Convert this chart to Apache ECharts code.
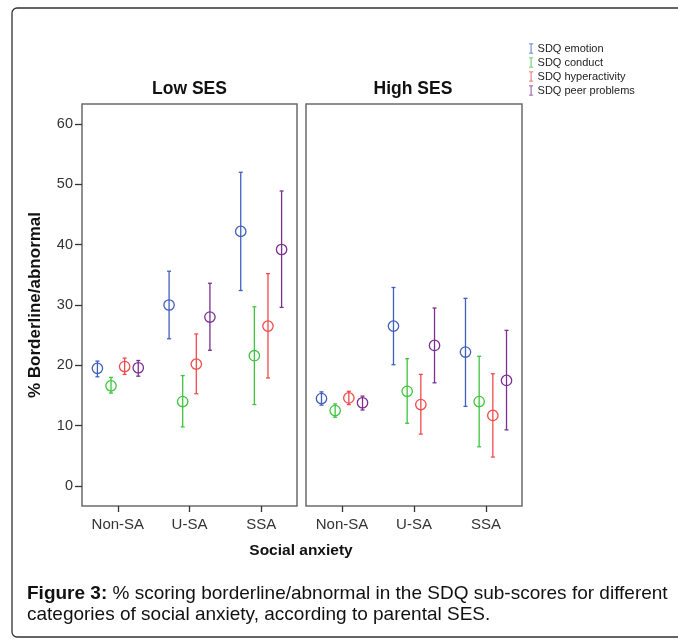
<!DOCTYPE html>
<html>
<head>
<meta charset="utf-8">
<script src="https://cdn.jsdelivr.net/npm/echarts@6/dist/echarts.min.js"></script>
<style>
  html, body { margin: 0; padding: 0; background: #fff; }
  #chart { width: 678px; height: 639px; }
</style>
</head>
<body>
<div id="chart"></div>
<script>
// categories on the x axis
const categories = ['Non-SA', 'U-SA', 'SSA']
const measures = ['SDQ emotion', 'SDQ conduct', 'SDQ hyperactivity', 'SDQ peer problems']
const colors = ['#4060bd', '#3fc43f', '#f24a4a', '#7b3091']
const yTicks = [0, 10, 20, 30, 40, 50, 60]

// [mean, lower, upper] per category — Low SES
const lowEmotion = [[19.5, 18.1, 20.7], [30.0, 24.4, 35.6], [42.2, 32.4, 52.0]]
const lowConduct = [[16.6, 15.4, 18.0], [14.0, 9.8, 18.3], [21.6, 13.5, 29.7]]
const lowHyper = [[19.8, 18.5, 21.2], [20.2, 15.3, 25.2], [26.5, 17.9, 35.2]]
const lowPeer = [[19.6, 18.2, 20.8], [28.0, 22.5, 33.6], [39.2, 29.6, 48.9]]

// [mean, lower, upper] per category — High SES
const highEmotion = [[14.5, 13.4, 15.6], [26.5, 20.1, 32.9], [22.2, 13.2, 31.1]]
const highConduct = [[12.5, 11.4, 13.6], [15.7, 10.4, 21.1], [14.0, 6.5, 21.5]]
const highHyper = [[14.6, 13.5, 15.7], [13.5, 8.6, 18.5], [11.7, 4.8, 18.6]]
const highPeer = [[13.8, 12.6, 14.9], [23.3, 17.1, 29.5], [17.5, 9.3, 25.8]]

const lowSets = [lowEmotion, lowConduct, lowHyper, lowPeer]
const highSets = [highEmotion, highConduct, highHyper, highPeer]

const myChart = echarts.init(document.getElementById('chart'))

// 误差线 + 空心圆
const makeRender = (k) => function (params, api) {
  const cat = api.value(0)
  const band = api.size([1, 0])[0]
  const dx = (k - 1.5) * band * 0.19
  const c = api.coord([cat, api.value(1)])
  const lo = api.coord([cat, api.value(2)])
  const hi = api.coord([cat, api.value(3)])
  const x = c[0] + dx
  const style = { stroke: colors[k], lineWidth: 1.3, fill: null }
  return {
    type: 'group',
    children: [
      { type: 'line', shape: { x1: x, y1: hi[1], x2: x, y2: lo[1] }, style },
      { type: 'line', shape: { x1: x - 2, y1: hi[1], x2: x + 2, y2: hi[1] }, style },
      { type: 'line', shape: { x1: x - 2, y1: lo[1], x2: x + 2, y2: lo[1] }, style },
      { type: 'circle', shape: { cx: x, cy: c[1], r: 5.2 }, style }
    ]
  }
}

const series = []
;[lowSets, highSets].forEach((sets, g) => {
  sets.forEach((rows, k) => {
    series.push({
      name: measures[k],
      type: 'custom',
      xAxisIndex: g,
      yAxisIndex: g,
      itemStyle: { color: colors[k] },
      renderItem: makeRender(k),
      encode: { x: 0, y: 1 },
      data: rows.map((r, i) => [i, r[0], r[1], r[2]])
    })
  })
})

const font = 'Arial, "Liberation Sans", sans-serif'
const yMin = -3.315
const yMax = 63.315

const xAxisBase = (g) => ({
  type: 'category',
  gridIndex: g,
  data: categories,
  axisLine: { show: false, onZero: false },
  axisTick: { show: true, alignWithLabel: true, length: 6, lineStyle: { color: '#333', width: 1.3 } },
  axisLabel: { margin: 11, fontSize: 15, color: '#333', fontFamily: font },
  splitLine: { show: false }
})

const option = {
  animation: false,
  backgroundColor: '#fff',
  textStyle: { fontFamily: font },
  legend: {
    data: measures,
    orient: 'vertical',
    left: 524,
    top: 38,
    icon: 'path://M0,0h5v1h-2v10h2v1h-5v-1h2v-10h-2z',
    itemWidth: 5,
    itemHeight: 10,
    itemGap: 3,
    textStyle: { fontSize: 11, color: '#222', fontFamily: font, padding: [0, 0, 0, -1] }
  },
  grid: [
    { left: 82, top: 104, width: 215, height: 402, show: true, borderColor: '#6b6b6b', borderWidth: 1.5 },
    { left: 306, top: 104, width: 216, height: 402, show: true, borderColor: '#6b6b6b', borderWidth: 1.5 }
  ],
  xAxis: [xAxisBase(0), xAxisBase(1)],
  yAxis: [
    {
      type: 'value',
      gridIndex: 0,
      min: yMin,
      max: yMax,
      axisLine: { show: false },
      axisTick: { show: true, length: 7, customValues: yTicks, lineStyle: { color: '#333', width: 1.3 } },
      axisLabel: { margin: 9, fontSize: 14.5, color: '#333', fontFamily: font, customValues: yTicks },
      splitLine: { show: false },
      name: '% Borderline/abnormal',
      nameLocation: 'middle',
      nameGap: 38,
      nameTextStyle: { fontSize: 17, fontWeight: 'bold', color: '#111', fontFamily: font }
    },
    {
      type: 'value',
      gridIndex: 1,
      min: yMin,
      max: yMax,
      axisLine: { show: false },
      axisTick: { show: false },
      axisLabel: { show: false },
      splitLine: { show: false }
    }
  ],
  graphic: [
    {
      type: 'rect',
      shape: { x: 12, y: 8, width: 720, height: 629, r: 5 },
      style: { fill: null, stroke: '#333', lineWidth: 1.3 },
      silent: true
    },
    {
      type: 'text', x: 189.5, y: 89,
      style: { text: 'Low SES', fill: '#111', align: 'center', verticalAlign: 'middle', font: 'bold 17.5px ' + font }
    },
    {
      type: 'text', x: 413, y: 89,
      style: { text: 'High SES', fill: '#111', align: 'center', verticalAlign: 'middle', font: 'bold 17.5px ' + font }
    },
    {
      type: 'text', x: 301, y: 551,
      style: { text: 'Social anxiety', fill: '#111', align: 'center', verticalAlign: 'middle', font: 'bold 15.5px ' + font }
    },
    {
      type: 'text', x: 27, y: 583,
      style: {
        text: '{b|Figure 3:} % scoring borderline/abnormal in the SDQ sub-scores for different\ncategories of social anxiety, according to parental SES.',
        fill: '#111',
        font: '19px ' + font,
        lineHeight: 21,
        rich: {
          b: { fontWeight: 'bold', fontSize: 19, fontFamily: font, fill: '#111' }
        }
      }
    }
  ],
  series
}

myChart.setOption(option)
</script>
</body>
</html>
